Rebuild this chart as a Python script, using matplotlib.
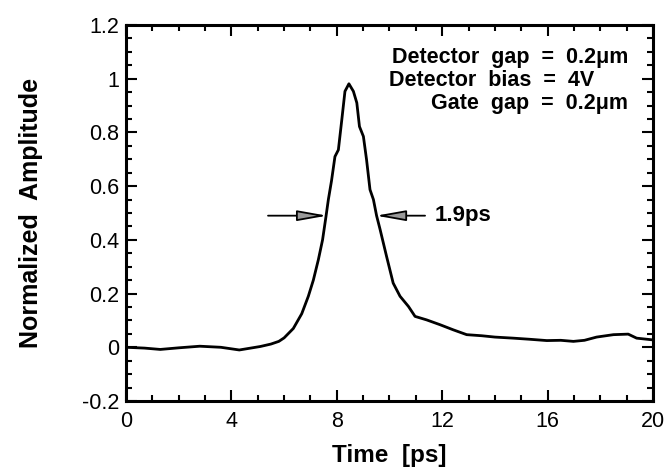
import matplotlib
matplotlib.use("Agg")
import matplotlib.pyplot as plt
from matplotlib.ticker import MultipleLocator, FixedLocator, FixedFormatter

plt.rcParams['font.family'] = ['Liberation Sans', 'DejaVu Sans']

time_ps = [0, 0.7, 1.3, 2.0, 2.8, 3.6, 4.3, 5.1, 5.5, 5.8, 6.0, 6.35, 6.67, 6.92,
           7.11, 7.30, 7.46, 7.59, 7.68, 7.80, 7.93, 8.06, 8.19, 8.31, 8.46, 8.63,
           8.76, 8.86, 9.01, 9.13, 9.26, 9.39, 9.51, 9.64, 9.89, 10.14, 10.40,
           10.72, 10.97, 11.41, 11.92, 12.42, 12.93, 13.5, 14.0, 14.7, 15.3,
           15.97, 16.5, 16.98, 17.4, 17.86, 18.5, 19.06, 19.38, 19.95]
amplitude = [0.0, -0.003, -0.008, -0.002, 0.004, 0.0, -0.010, 0.003, 0.012, 0.022,
             0.035, 0.07, 0.125, 0.19, 0.25, 0.326, 0.40, 0.487, 0.55, 0.62, 0.71,
             0.735, 0.847, 0.953, 0.981, 0.953, 0.91, 0.822, 0.785, 0.698, 0.587,
             0.55, 0.49, 0.44, 0.338, 0.239, 0.19, 0.152, 0.115, 0.102, 0.084,
             0.065, 0.047, 0.043, 0.038, 0.034, 0.030, 0.025, 0.026, 0.022, 0.026,
             0.038, 0.047, 0.049, 0.034, 0.028]

x_ticks = [0, 4, 8, 12, 16, 20]
x_tick_labels = ["0", "4", "8", "12", "16", "20"]
y_ticks = [-0.2, 0, 0.2, 0.4, 0.6, 0.8, 1.0, 1.2]
y_tick_labels = ["-0.2", "0", "0.2", "0.4", "0.6", "0.8", "1", "1.2"]

fwhm_level = 0.49
fwhm_left = 7.63
fwhm_right = 9.49
fwhm_label = "1.9ps"

annot_lines = ["Detector  gap  =  0.2\u03bcm", "Detector  bias  =  4V", "Gate  gap  =  0.2\u03bcm"]

fig = plt.figure(figsize=(6.72, 4.71), dpi=100)
ax = fig.add_axes([0.1875, 0.1486, 0.7842, 0.7984])

ax.plot(time_ps, amplitude, color='black', lw=2.0)

ax.set_xlim(0, 20)
ax.set_ylim(-0.2, 1.2)
ax.xaxis.set_major_locator(FixedLocator(x_ticks))
ax.xaxis.set_major_formatter(FixedFormatter(x_tick_labels))
ax.xaxis.set_minor_locator(MultipleLocator(1))
ax.yaxis.set_major_locator(FixedLocator(y_ticks))
ax.yaxis.set_major_formatter(FixedFormatter(y_tick_labels))
ax.yaxis.set_minor_locator(MultipleLocator(0.05))

ax.tick_params(which='both', direction='in', top=True, right=True, width=1.5, labelsize=15.5)
ax.tick_params(which='major', length=8)
ax.tick_params(which='minor', length=4.5)
ax.tick_params(axis='x', pad=7)
ax.tick_params(axis='y', pad=5)
for s in ax.spines.values():
    s.set_linewidth(2.2)

ax.set_xlabel("Time  [ps]", fontsize=17.5, fontweight='bold', labelpad=9)
ax.set_ylabel("Normalized  Amplitude", fontsize=18, fontweight='bold', labelpad=28)

arrow_kw = dict(arrowstyle='-|>,head_length=0.9,head_width=0.16', mutation_scale=20,
                fc='0.6', ec='black', lw=1.3, shrinkA=0, shrinkB=0)
ax.annotate("", xy=(fwhm_left, fwhm_level), xytext=(5.39, fwhm_level), arrowprops=arrow_kw)
ax.annotate("", xy=(fwhm_right, fwhm_level), xytext=(11.35, fwhm_level), arrowprops=arrow_kw)
ax.text(11.7, fwhm_level, fwhm_label, fontsize=16, fontweight='bold', va='center', ha='left')

ax.text(19.05, 1.078, annot_lines[0], fontsize=15.5, fontweight='bold', ha='right', va='center')
ax.text(10.0, 0.993, annot_lines[1], fontsize=15.5, fontweight='bold', ha='left', va='center')
ax.text(19.05, 0.907, annot_lines[2], fontsize=15.5, fontweight='bold', ha='right', va='center')

fig.savefig("out.png", dpi=100)
